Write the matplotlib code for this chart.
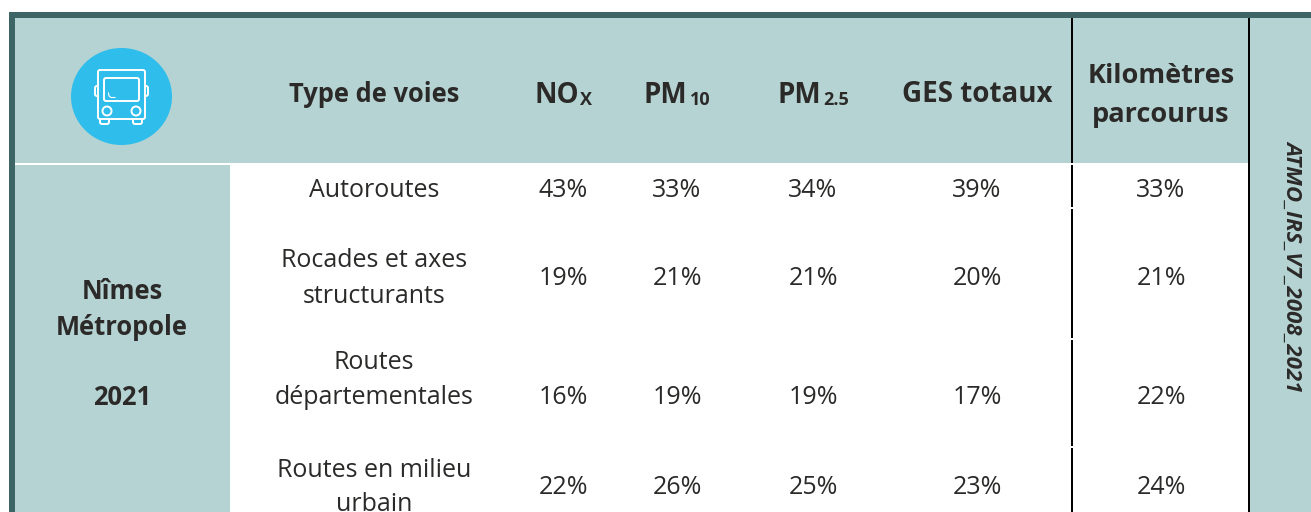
#!/usr/bin/env python3
import matplotlib
matplotlib.use("Agg")
import matplotlib.pyplot as plt
from matplotlib.patches import Circle, Ellipse, FancyBboxPatch, Rectangle

ROAD_TYPES = ["Autoroutes", "Rocades et axes\nstructurants", "Routes\ndépartementales", "Routes en milieu\nurbain"]
NOX = [43, 19, 16, 22]
PM10 = [33, 21, 19, 26]
PM25 = [34, 21, 19, 25]
GES = [39, 20, 17, 23]
KM = [33, 21, 22, 24]
SOURCE = "ATMO_IRS_V7_2008_2021"

TEAL = "#b4d3d2"
DARK = "#3d6565"
BLUE = "#2fbdec"
INK = "#2b2a29"

plt.rcParams["font.family"] = ["Open Sans", "DejaVu Sans"]


def rect(ax, x0, y0, x1, y1, color):
    ax.add_patch(Rectangle((x0, y0), x1 - x0, y1 - y0, facecolor=color, edgecolor="none"))


def round_box(ax, x0, y0, x1, y1, pad=2.0, lw=1.4, fill="none"):
    ax.add_patch(FancyBboxPatch((x0 + pad, y0 + pad), x1 - x0 - 2 * pad, y1 - y0 - 2 * pad,
                                boxstyle=f"round,pad={pad}", facecolor=fill, edgecolor="white", linewidth=lw))


def draw_bus(ax):
    ax.add_patch(Ellipse((121.5, 96.5), 101, 97, facecolor=BLUE, edgecolor="none"))
    round_box(ax, 95, 86, 100, 96)
    round_box(ax, 143, 86, 148, 96)
    round_box(ax, 100, 118, 109, 124)
    round_box(ax, 133, 118, 142, 124)
    round_box(ax, 98, 70, 145, 119, fill=BLUE)
    round_box(ax, 104, 78, 139, 101)
    ax.add_patch(Circle((107, 111), 4.5, facecolor="none", edgecolor="white", linewidth=1.4))
    ax.add_patch(Circle((136, 111), 4.5, facecolor="none", edgecolor="white", linewidth=1.4))
    ax.plot([108.5, 109, 111, 115], [93, 96, 97.5, 97.5], color="white", linewidth=0.8)


def main():
    fig = plt.figure(figsize=(13.11, 5.12), dpi=100)
    ax = fig.add_axes([0, 0, 1, 1])
    ax.set_xlim(0, 1311)
    ax.set_ylim(512, 0)
    ax.axis("off")

    # background blocks
    rect(ax, 9, 12, 1311, 512, DARK)
    rect(ax, 15, 18, 1311, 512, "white")
    rect(ax, 15, 18, 1311, 163, TEAL)
    rect(ax, 15, 165, 230, 512, TEAL)
    rect(ax, 1250, 163, 1311, 512, TEAL)

    # black column rules, broken by white row gaps
    rect(ax, 1071, 18, 1073, 512, "black")
    rect(ax, 1248, 18, 1250, 512, "black")
    for gap in [163, 207, 338, 446]:
        rect(ax, 1071, gap, 1073, gap + 2, "white")

    draw_bus(ax)

    head = dict(color=INK, fontweight="bold", va="baseline")
    ax.text(374, 102, "Type de voies", ha="center", fontsize=18.4, **head)
    ax.text(977, 102, "GES totaux", ha="center", fontsize=20, **head)
    ax.text(1161, 83, "Kilomètres", ha="center", fontsize=19.5, **head)
    ax.text(1161, 122, "parcourus", ha="center", fontsize=19.5, **head)

    # pollutant names with their subscripts
    ax.text(579, 103, "NO", ha="right", fontsize=20, **head)
    ax.text(580, 105, "X", ha="left", fontsize=13, **head)
    ax.text(687, 103, "PM", ha="right", fontsize=20, **head)
    ax.text(690, 105, "10", ha="left", fontsize=13, **head)
    ax.text(821, 103, "PM", ha="right", fontsize=20, **head)
    ax.text(823, 105, "2.5", ha="left", fontsize=13, **head)

    bold = dict(color=INK, fontweight="bold", fontsize=18.4, ha="center", va="baseline")
    ax.text(122, 299, "Nîmes", **bold)
    ax.text(122, 335, "Métropole", **bold)
    ax.text(122, 405, "2021", **bold)

    ax.text(1293, 266, SOURCE, rotation=270, ha="center", va="center",
            color=INK, fontweight="bold", fontstyle="italic", fontsize=16)

    # body rows
    baselines = [197, 285, 404, 494]
    line_ys = [[197], [267, 303], [369, 404], [477, 511]]
    columns = [(563, NOX), (677, PM10), (813, PM25), (977, GES), (1161, KM)]
    body = dict(color=INK, fontsize=18, ha="center", va="baseline")
    for i, name in enumerate(ROAD_TYPES):
        for line, y in zip(name.split("\n"), line_ys[i]):
            ax.text(374, y, line, **body)
        for x, vals in columns:
            ax.text(x, baselines[i], f"{vals[i]}%", **body)

    fig.savefig("out.png", dpi=100)


if __name__ == "__main__":
    main()
